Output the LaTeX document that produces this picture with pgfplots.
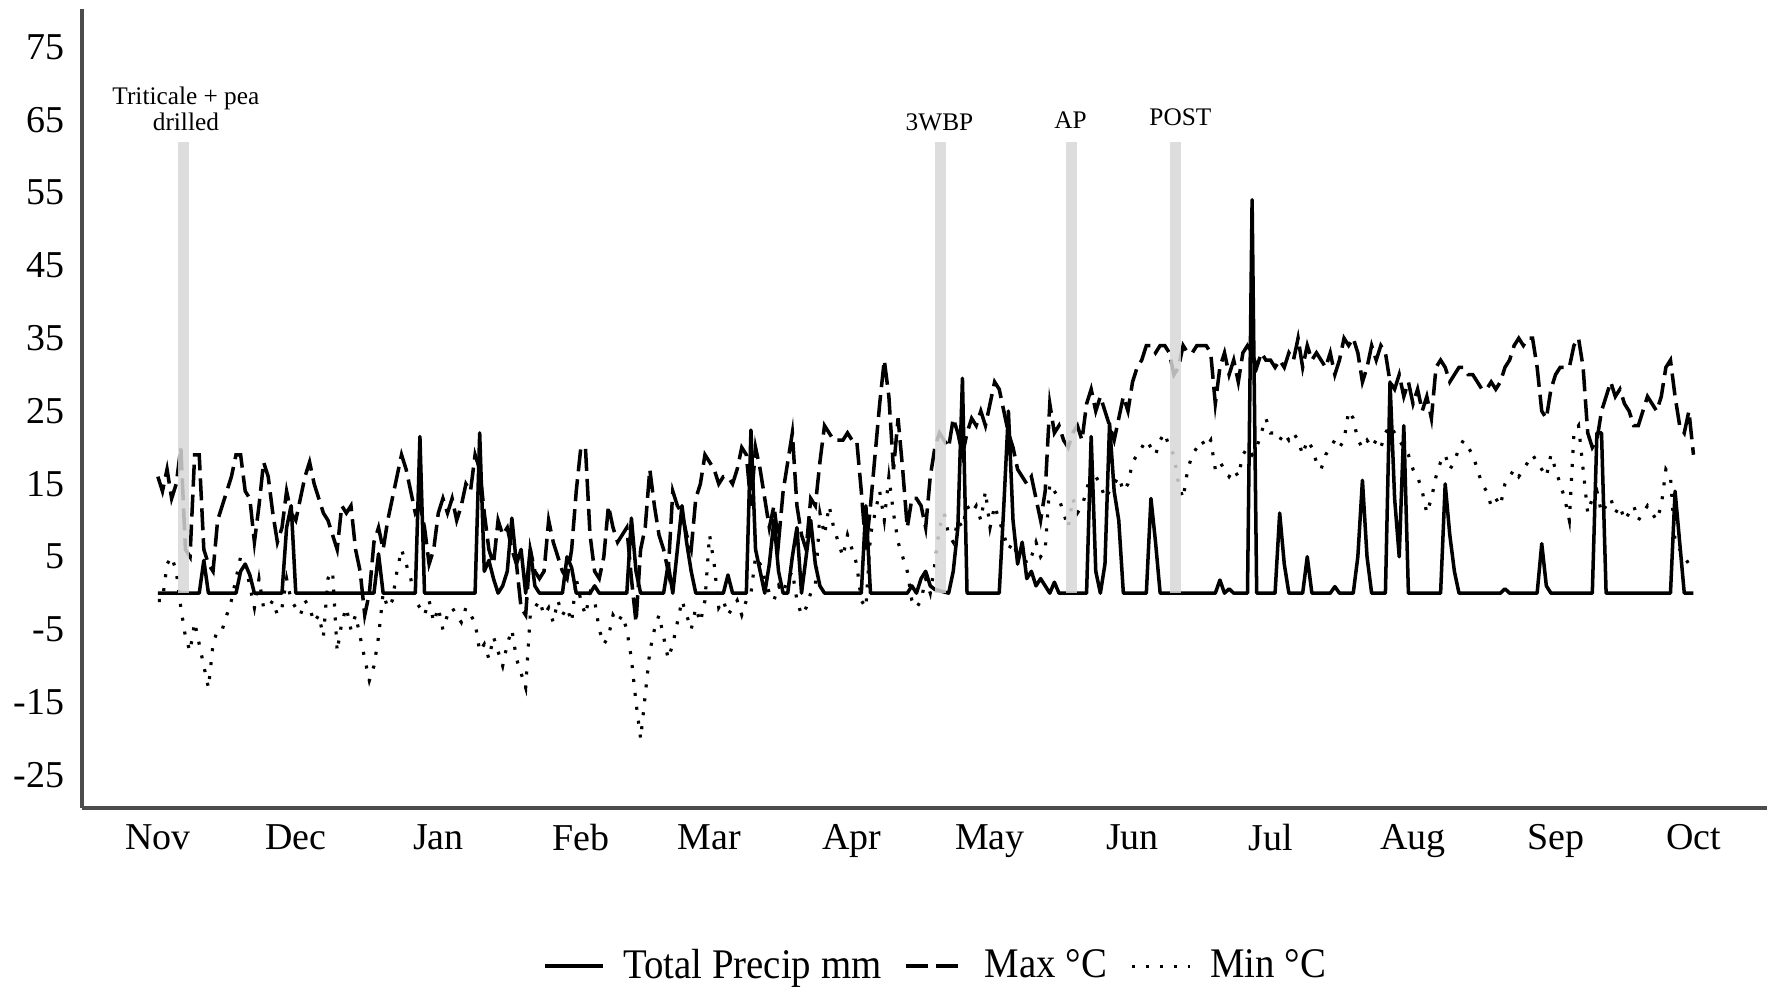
\documentclass[border=0pt]{standalone}
\usepackage{fontspec}
\setmainfont{Liberation Serif}
\newfontfamily\legfont[FakeStretch=0.92]{Liberation Serif}
\usepackage{pgfplots}
\usepackage{pgfplotstable}
\pgfplotsset{compat=1.18}
\definecolor{barg}{RGB}{215,215,215}
\pgfplotstableread[row sep=\\]{
day tmax tmin\\
0 16 -1\\ 1 14 -1\\ 2 17 4\\ 3 13 5\\ 4 15 3\\ 5 20 -2\\ 6 6 -6\\ 7 5 -8\\ 8 19 -4\\ 9 19 -7\\
10 6 -10\\ 11 4 -13\\ 12 3 -7\\ 13 10 -5\\ 14 12 -5\\ 15 14 -3\\ 16 16 -1\\ 17 19 2\\ 18 19 5\\ 19 14 4\\
20 13 1\\ 21 7 -2\\ 22 12 2\\ 23 18 -2\\ 24 16 -2\\ 25 11 -1\\ 26 7 -3\\ 27 9 -2\\ 28 14 2\\ 29 11 -1\\
30 10 -2\\ 31 13 -3\\ 32 16 -1\\ 33 18 -2\\ 34 15 -4\\ 35 13 -3\\ 36 11 -6\\ 37 10 2\\ 38 8 3\\ 39 6 -8\\
40 12 -4\\ 41 11 -2\\ 42 12 -5\\ 43 6 -3\\ 44 3 -6\\ 45 -3 -9\\ 46 0 -12\\ 47 7 -10\\ 48 9 -6\\ 49 6 0\\
50 10 -2\\ 51 13 -1\\ 52 16 3\\ 53 19 6\\ 54 17 4\\ 55 14 2\\ 56 11 -1\\ 57 12 -2\\ 58 9 -3\\ 59 4 -1\\
60 6 -4\\ 61 11 -2\\ 62 13 -5\\ 63 11 -3\\ 64 13 -2\\ 65 10 -3\\ 66 12 -4\\ 67 15 -2\\ 68 14 -3\\ 69 19 -4\\
70 17 -8\\ 71 11 -7\\ 72 6 -9\\ 73 4 -6\\ 74 10 -8\\ 75 8 -10\\ 76 9 -7\\ 77 6 -5\\ 78 4 -9\\ 79 -2 -11\\
80 -3 -13\\ 81 6 -3\\ 82 3 -2\\ 83 2 -1\\ 84 3 -3\\ 85 10 -2\\ 86 7 -4\\ 87 5 -1\\ 88 3 -3\\ 89 2 -2\\
90 6 -4\\ 91 14 2\\ 92 20 -1\\ 93 20 -3\\ 94 8 0\\ 95 3 -1\\ 96 2 -5\\ 97 5 -7\\ 98 12 -6\\ 99 9 -3\\
100 7 -4\\ 101 8 -3\\ 102 9 -5\\ 103 2 -9\\ 104 -4 -15\\ 105 6 -20\\ 106 9 -14\\ 107 17 -8\\ 108 12 -5\\ 109 8 -3\\
110 6 -6\\ 111 3 -9\\ 112 14 -7\\ 113 12 -4\\ 114 11 -1\\ 115 8 -3\\ 116 6 -5\\ 117 13 -2\\ 118 15 -4\\ 119 19 -1\\
120 18 8\\ 121 17 4\\ 122 15 -2\\ 123 16 -1\\ 124 16 -3\\ 125 15 -2\\ 126 17 -1\\ 127 20 -3\\ 128 19 -1\\ 129 12 0\\
130 20 5\\ 131 17 4\\ 132 13 2\\ 133 9 0\\ 134 12 -1\\ 135 7 1\\ 136 14 0\\ 137 18 2\\ 138 22 3\\ 139 12 -1\\
140 8 -3\\ 141 6 -2\\ 142 13 0\\ 143 12 1\\ 144 18 11\\ 145 23 8\\ 146 22 12\\ 147 21 9\\ 148 21 7\\ 149 21 5\\
150 22 8\\ 151 21 6\\ 152 21 4\\ 153 14 -1\\ 154 6 -2\\ 155 12 8\\ 156 19 11\\ 157 26 14\\ 158 32 10\\ 159 27 16\\
160 17 11\\ 161 24 7\\ 162 17 5\\ 163 9 3\\ 164 13 -1\\ 165 13 -2\\ 166 12 -1\\ 167 9 2\\ 168 16 0\\ 169 20 4\\
170 22 9\\ 171 21 11\\ 172 20 8\\ 173 24 7\\ 174 22 10\\ 175 19 9\\ 176 22 12\\ 177 24 11\\ 178 23 12\\ 179 25 10\\
180 23 14\\ 181 26 9\\ 182 29 12\\ 183 28 10\\ 184 25 8\\ 185 22 6\\ 186 20 7\\ 187 17 5\\ 188 16 6\\ 189 15 4\\
190 16 5\\ 191 13 7\\ 192 10 5\\ 193 14 6\\ 194 26 15\\ 195 22 14\\ 196 23 13\\ 197 21 11\\ 198 20 9\\ 199 22 13\\
200 23 11\\ 201 21 12\\ 202 26 14\\ 203 28 17\\ 204 25 16\\ 205 27 15\\ 206 25 13\\ 207 23 14\\ 208 21 15\\ 209 24 16\\
210 27 14\\ 211 25 15\\ 212 29 18\\ 213 31 19\\ 214 32 20\\ 215 34 21\\ 216 34 20\\ 217 33 19\\ 218 34 21\\ 219 34 22\\
220 33 20\\ 221 30 19\\ 222 31 15\\ 223 34 13\\ 224 33 17\\ 225 33 19\\ 226 34 20\\ 227 34 21\\ 228 34 20\\ 229 33 21\\
230 26 17\\ 231 31 18\\ 232 33 17\\ 233 30 16\\ 234 32 17\\ 235 29 16\\ 236 33 19\\ 237 34 20\\ 238 33 19\\ 239 31 20\\
240 33 22\\ 241 32 24\\ 242 32 22\\ 243 31 22\\ 244 32 21\\ 245 31 22\\ 246 33 21\\ 247 32 22\\ 248 35 21\\ 249 31 19\\
250 34 21\\ 251 32 20\\ 252 33 18\\ 253 32 17\\ 254 31 19\\ 255 33 20\\ 256 30 21\\ 257 32 20\\ 258 35 21\\ 259 34 25\\
260 35 24\\ 261 33 21\\ 262 29 20\\ 263 31 21\\ 264 34 20\\ 265 32 21\\ 266 34 20\\ 267 33 22\\ 268 29 23\\ 269 28 22\\
270 30 21\\ 271 27 20\\ 272 29 19\\ 273 26 17\\ 274 28 16\\ 275 25 14\\ 276 27 11\\ 277 24 13\\ 278 31 16\\ 279 32 18\\
280 31 19\\ 281 29 17\\ 282 30 18\\ 283 31 20\\ 284 31 21\\ 285 30 20\\ 286 30 19\\ 287 29 17\\ 288 28 15\\ 289 28 14\\
290 29 12\\ 291 28 13\\ 292 29 12\\ 293 31 15\\ 294 32 16\\ 295 34 17\\ 296 35 16\\ 297 34 17\\ 298 35 18\\ 299 35 19\\
300 31 18\\ 301 25 17\\ 302 24 16\\ 303 28 19\\ 304 30 17\\ 305 31 15\\ 306 31 13\\ 307 31 10\\ 308 34 22\\ 309 35 23\\
310 31 17\\ 311 22 11\\ 312 20 13\\ 313 21 14\\ 314 25 11\\ 315 27 12\\ 316 29 13\\ 317 27 11\\ 318 28 12\\ 319 26 10\\
320 25 11\\ 321 23 12\\ 322 23 10\\ 323 25 11\\ 324 27 12\\ 325 26 11\\ 326 25 10\\ 327 27 12\\ 328 31 17\\ 329 32 16\\
330 27 7\\ 331 23 6\\ 332 22 5\\ 333 25 4\\ 334 19 5\\
}\temps
\begin{document}
\begin{tikzpicture}
\useasboundingbox (-8.2mm,-17.8mm) rectangle (168.5mm,80.8mm);
\begin{axis}[
  at={(0,0)}, anchor=south west,
  scale only axis, width=168.5mm, height=79.9mm,
  xmin=-16.5, xmax=350, ymin=-29.5, ymax=80.2,
  axis x line*=bottom, axis y line*=left,
  axis line style={-, draw=black!70, line width=0.9pt},
  xtick={0,30,61,92,120,151,181,212,242,273,304,334},
  xticklabels={Nov,Dec,Jan,Feb,Mar,Apr,May,Jun,Jul,Aug,Sep,Oct},
  ytick={-25,-15,-5,5,15,25,35,45,55,65,75},
  major tick length=0pt,
  tick label style={font=\fontsize{10.8}{12}\selectfont},
  /pgf/number format/assume math mode=true,
  yticklabel style={xshift=-0.5mm},
  xticklabel style={yshift=-0.4mm},
  legend columns=3,
  legend style={at={(0.508,-0.198)}, anchor=center, draw=none, fill=none,
    font=\legfont\fontsize{12}{14}\selectfont,
    /tikz/every odd column/.append style={column sep=1.2mm},
    /tikz/every even column/.append style={column sep=1.6mm}},
  legend image code/.code={\draw[#1] (0mm,0mm) -- (5.8mm,0mm);},
]
\addplot[black, line width=1pt, line join=round] coordinates {
(0,0) (9,0) (10,4.5) (11,0) (17,0) (18,3) (19,4) (20,2.5) (21,0) (27,0) (28,9) (29,12) (30,0)
(47,0) (48,5.4) (49,0) (56,0) (57,21.5) (58,0) (69,0) (70,22) (71,3) (72,4.5) (73,2) (74,0) (75,1)
(76,3) (77,10.3) (78,4) (79,6) (80,0) (81,6) (82,1) (83,0) (88,0) (89,5) (90,3.5) (91,0) (94,0)
(95,1) (96,0) (102,0) (103,10.3) (104,3) (105,0) (110,0) (111,4) (112,0) (113,6) (114,12) (115,7)
(116,3) (117,0) (123,0) (124,2.5) (125,0) (128,0) (129,22.4) (130,6) (131,3) (132,0) (133,4)
(134,10) (135,3) (136,0) (137,0) (138,5) (139,9) (140,0) (141,5) (142,10) (143,4) (144,1) (145,0)
(153,0) (154,12) (155,0) (163,0) (164,1) (165,0) (166,2) (167,3) (168,1) (169,0.5) (172,0) (173,3)
(174,9) (175,29.5) (176,0) (183,0) (184,12) (185,25) (186,10) (187,4) (188,7) (189,2) (190,3)
(191,1) (192,2) (193,1) (194,0) (195,1.5) (196,0) (202,0) (203,21.5) (204,3) (205,0) (206,4)
(207,23.3) (208,14) (209,10) (210,0) (215,0) (216,13) (217,7) (218,0) (230,0) (231,1.8) (232,0)
(233,0.6) (234,0) (237,0) (238,54) (239,0) (243,0) (244,11) (245,4) (246,0) (249,0) (250,5) (251,0)
(255,0) (256,0.9) (257,0) (260,0) (261,5) (262,15.5) (263,5) (264,0) (267,0) (268,29) (269,13)
(270,5) (271,23) (272,0) (279,0) (280,15) (281,8) (282,3) (283,0) (292,0) (293,0.6) (294,0)
(300,0) (301,6.8) (302,1) (303,0) (312,0) (313,22) (314,22) (315,0) (329,0) (330,14) (331,7)
(332,0) (334,0)
};
\addlegendentry{Total Precip mm}
\addplot[black, line width=1pt, dash pattern=on 2.2mm off 0.8mm] table[x=day, y=tmax] {\temps};
\addlegendentry{Max °C}
\addplot[black, line width=0.9pt, dash pattern=on 0.3mm off 1.1mm] table[x=day, y=tmin] {\temps};
\addlegendentry{Min °C}
\addplot[ycomb, draw=barg, line width=1.1mm, opacity=0.85, forget plot] coordinates {
(5.6,62) (170.2,62) (198.7,62) (221.3,62)};
\node[font=\fontsize{7.2}{7.4}\selectfont, align=center, inner sep=0pt] at (axis cs:6.1,66.5) {Triticale + pea\\drilled};
\node[font=\fontsize{7.2}{7.4}\selectfont, inner sep=0pt] at (axis cs:170,64.7) {3WBP};
\node[font=\fontsize{7.2}{7.4}\selectfont, inner sep=0pt] at (axis cs:198.5,64.9) {AP};
\node[font=\fontsize{7.2}{7.4}\selectfont, inner sep=0pt] at (axis cs:222.4,65.4) {POST};
\end{axis}
\end{tikzpicture}
\end{document}
